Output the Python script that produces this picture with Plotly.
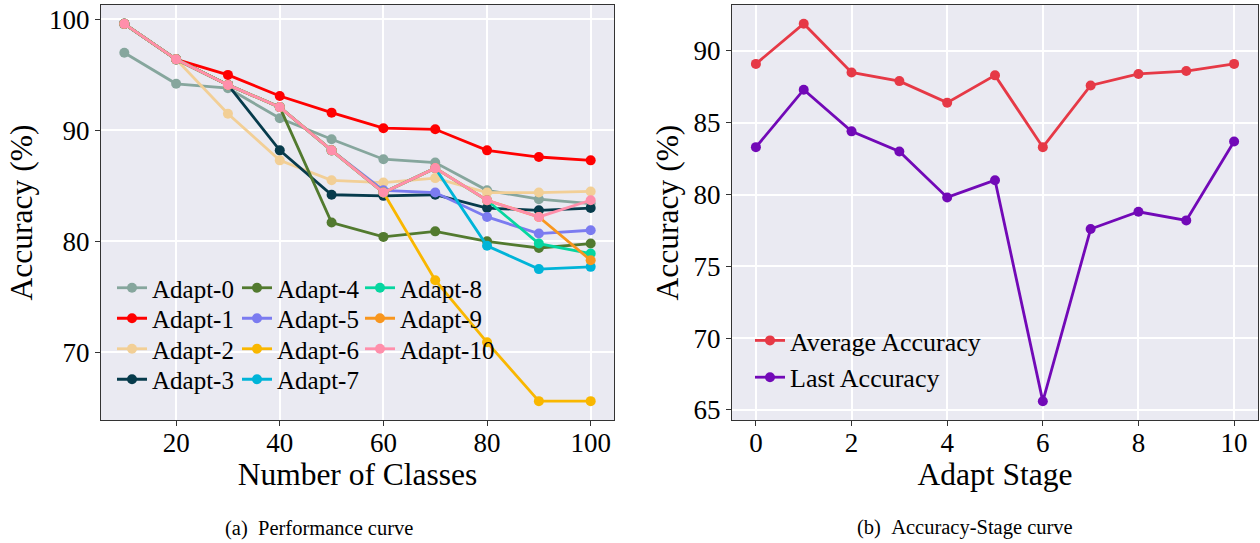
import plotly.graph_objects as go

# left panel: accuracy vs number of classes for each adapt run
num_classes = [10, 20, 30, 40, 50, 60, 70, 80, 90, 100]
adapt_names = ['Adapt-%d' % i for i in range(11)]
adapt_colors = ['#86A69D', '#FF0000', '#F2CF96', '#073B4C', '#527A2F', '#7B7BF0',
                '#F9B700', '#00B4D8', '#06D6A0', '#F8961E', '#FF8FAB']

adapt_0 = [97.0, 94.2, 93.8, 91.1, 89.2, 87.4, 87.1, 84.6, 83.8, 83.4]
adapt_1 = [99.6, 96.4, 95.0, 93.1, 91.6, 90.2, 90.1, 88.2, 87.6, 87.3]
adapt_2 = [99.6, 96.4, 91.5, 87.3, 85.5, 85.3, 85.7, 84.4, 84.4, 84.5]
adapt_3 = [99.6, 96.4, 94.1, 88.2, 84.2, 84.1, 84.2, 83.0, 82.8, 83.0]
adapt_4 = [99.6, 96.4, 94.1, 92.1, 81.7, 80.4, 80.9, 80.0, 79.4, 79.8]
adapt_5 = [99.6, 96.4, 94.1, 92.1, 88.2, 84.6, 84.4, 82.2, 80.7, 81.0]
adapt_6 = [99.6, 96.4, 94.1, 92.1, 88.2, 84.4, 76.5, 70.9, 65.6, 65.6]
adapt_7 = [99.6, 96.4, 94.1, 92.1, 88.2, 84.4, 86.6, 79.6, 77.5, 77.7]
adapt_8 = [99.6, 96.4, 94.1, 92.1, 88.2, 84.4, 86.6, 83.7, 79.8, 78.9]
adapt_9 = [99.6, 96.4, 94.1, 92.1, 88.2, 84.4, 86.6, 83.7, 82.2, 78.3]
adapt_10 = [99.6, 96.4, 94.1, 92.1, 88.2, 84.4, 86.6, 83.7, 82.2, 83.7]
adapt_values = [adapt_0, adapt_1, adapt_2, adapt_3, adapt_4, adapt_5,
                adapt_6, adapt_7, adapt_8, adapt_9, adapt_10]

# right panel: accuracy per adapt stage
stages = [0, 1, 2, 3, 4, 5, 6, 7, 8, 9, 10]
avg_acc = [89.1, 91.9, 88.5, 87.9, 86.4, 88.3, 83.3, 87.6, 88.4, 88.6, 89.1]
last_acc = [83.3, 87.3, 84.4, 83.0, 79.8, 81.0, 65.6, 77.6, 78.8, 78.2, 83.7]

FONT = 'Liberation Serif'
W, H = 1260, 543
LW, MS = 2.8, 10


def px_x(p):
    return p / W


def px_y(p):
    return 1 - p / H


fig = go.Figure()

legend_style = dict(
    bgcolor='rgba(0,0,0,0)', font=dict(family=FONT, size=25, color='black'),
    xanchor='left', yanchor='top', itemwidth=30, tracegroupgap=0,
)

# one small legend per entry so the rows can sit as tight as in the original
# (columns: 0-3, 4-7, 8-10)
col_left = [112, 237, 360]
row_top = [265, 295.5, 326, 356.5]
legends = {}
for i, (name, vals, col) in enumerate(zip(adapt_names, adapt_values, adapt_colors)):
    key = 'legend' if i == 0 else 'legend%d' % (i + 1)
    c, r = divmod(i, 4)
    legends[key] = dict(legend_style, x=px_x(col_left[c]), y=px_y(row_top[r]))
    fig.add_trace(go.Scatter(
        x=num_classes, y=vals, name=name, mode='lines+markers',
        line=dict(color=col, width=LW), marker=dict(color=col, size=MS),
        xaxis='x', yaxis='y', legend=key,
    ))

legends['legend12'] = dict(legend_style, x=px_x(750), y=px_y(317),
                           font=dict(family=FONT, size=26, color='black'))
fig.add_trace(go.Scatter(
    x=stages, y=avg_acc, name='Average Accuracy', mode='lines+markers',
    line=dict(color='#E63946', width=LW), marker=dict(color='#E63946', size=MS),
    xaxis='x2', yaxis='y2', legend='legend12',
))
fig.add_trace(go.Scatter(
    x=stages, y=last_acc, name='Last Accuracy', mode='lines+markers',
    line=dict(color='#7209B7', width=LW), marker=dict(color='#7209B7', size=MS),
    xaxis='x2', yaxis='y2', legend='legend12',
))

axis_style = dict(
    showline=True, mirror=True, linecolor='#333333', linewidth=1.2,
    ticks='outside', ticklen=5, tickcolor='#333333', tickwidth=1,
    showgrid=True, gridcolor='white', gridwidth=2, zeroline=False,
    tickfont=dict(family=FONT, size=27, color='black'),
    automargin=False,
)
title_font = dict(family=FONT, size=31.5, color='black')
caption_font = dict(family=FONT, size=20.5, color='black')

fig.update_layout(
    width=W, height=H,
    margin=dict(l=0, r=0, t=0, b=0),
    paper_bgcolor='white', plot_bgcolor='#EAEAF2',
    font=dict(family=FONT, color='black'),
    xaxis=dict(axis_style, domain=[px_x(101), px_x(614)], range=[5.5, 104.5],
               tickvals=[20, 40, 60, 80, 100], anchor='y', ticklabelstandoff=-7,
               title=dict(text='Number of Classes', font=title_font, standoff=4)),
    yaxis=dict(axis_style, domain=[px_y(420), px_y(5)], range=[63.9, 101.3],
               tickvals=[70, 80, 90, 100], anchor='x',
               title=dict(text='Accuracy (%)', font=title_font, standoff=6)),
    xaxis2=dict(axis_style, domain=[px_x(732), px_x(1258)], range=[-0.5, 10.5],
                tickvals=[0, 2, 4, 6, 8, 10], anchor='y2', ticklabelstandoff=-7,
                title=dict(text='Adapt Stage', font=title_font, standoff=4)),
    yaxis2=dict(axis_style, domain=[px_y(420), px_y(5)], range=[64.3, 93.2],
                tickvals=[65, 70, 75, 80, 85, 90], anchor='x2',
                title=dict(text='Accuracy (%)', font=title_font, standoff=5)),
    showlegend=True,
    annotations=[
        dict(text='(a)\u00a0\u00a0Performance curve', x=px_x(319), y=px_y(528),
             xref='paper', yref='paper', xanchor='center', yanchor='middle',
             showarrow=False, font=caption_font),
        dict(text='(b)\u00a0\u00a0Accuracy-Stage curve', x=px_x(965), y=px_y(527),
             xref='paper', yref='paper', xanchor='center', yanchor='middle',
             showarrow=False, font=caption_font),
    ],
)
fig.update_layout(**legends)

fig.write_html('out.html', config={'displayModeBar': False},
               post_script="document.body.style.margin='0px';")
